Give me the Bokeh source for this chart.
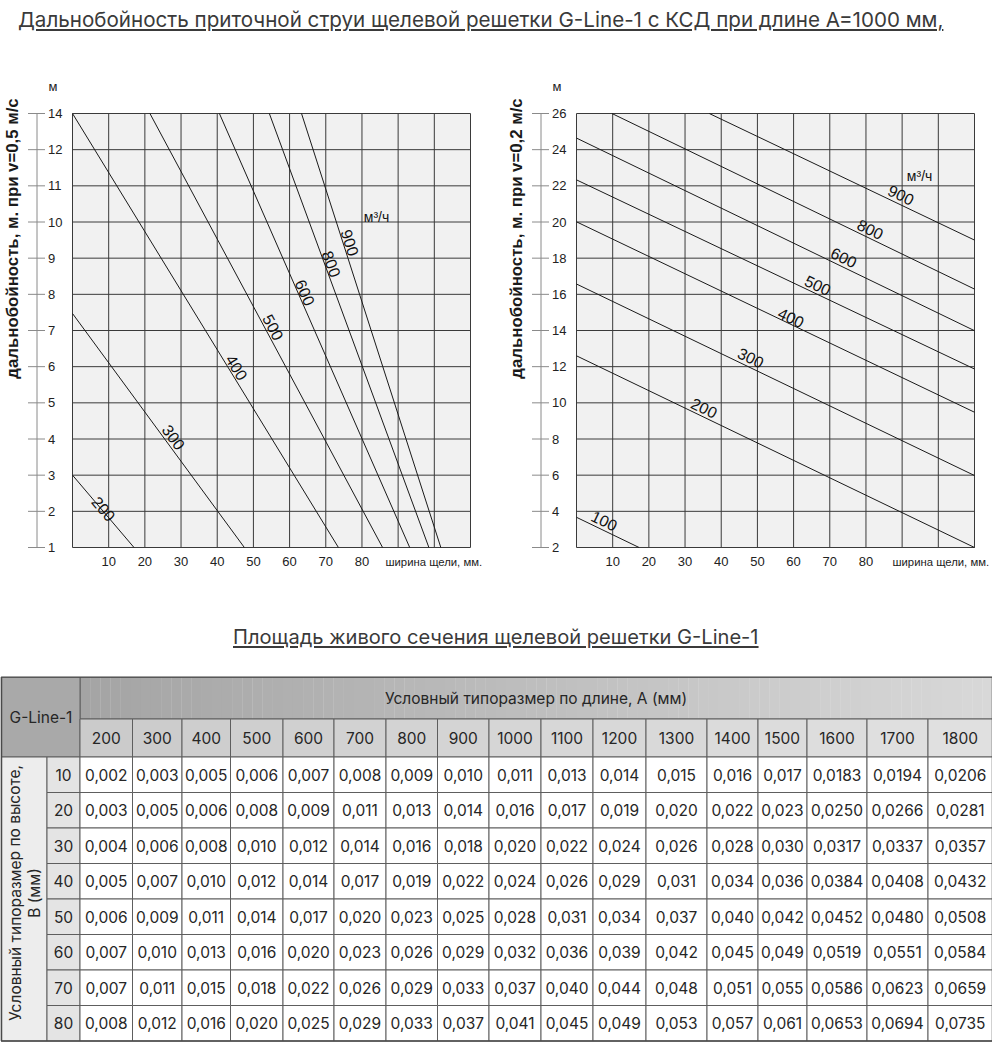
import math
from bokeh.plotting import figure
from bokeh.models import Div, Range1d
from bokeh.layouts import column, row
from bokeh.embed import file_html
from bokeh.resources import INLINE
from bokeh.core.properties import value

# ---------------- data ----------------
chart_x_ticks = [10, 20, 30, 40, 50, 60, 70, 80]
grid_x = [0, 10, 20, 30, 40, 50, 60, 70, 80, 90, 100, 110]

# left chart: throw at v=0.5 m/s (axis position 13 is labelled "14")
left_flows = [200, 300, 400, 500, 600, 800, 900]
left_x_start = [0.0, 0.0, 0.0, 21.4, 40.6, 54.4, 63.3]
left_y_start = [3.0, 7.47, 13.0, 13.0, 13.0, 13.0, 13.0]
left_x_end = [17.0, 47.5, 73.5, 85.7, 93.2, 98.5, 101.8]
left_y_end = [1.0, 1.0, 1.0, 1.0, 1.0, 1.0, 1.0]
left_label_x = [8.6, 28.0, 45.4, 55.5, 64.3, 71.6, 76.7]
left_label_y = [2.07, 4.05, 5.98, 7.09, 8.05, 8.84, 9.43]
left_y_ticks = [1, 2, 3, 4, 5, 6, 7, 8, 9, 10, 11, 12, 13]
left_y_tick_labels = ["1", "2", "3", "4", "5", "6", "7", "8", "9", "10", "11", "12", "14"]

# right chart: throw at v=0.2 m/s
right_flows = [100, 200, 300, 400, 500, 600, 800, 900]
right_x_start = [0.0, 0.0, 0.0, 0.0, 0.0, 0.0, 9.8, 36.7]
right_y_start = [3.67, 12.6, 16.57, 20.01, 22.33, 24.64, 26.0, 26.0]
right_x_end = [17.3, 110.0, 110.0, 110.0, 110.0, 110.0, 110.0, 110.0]
right_y_end = [2.0, 2.0, 5.98, 9.48, 11.87, 13.99, 16.29, 19.0]
right_label_x = [7.7, 35.3, 48.2, 59.3, 66.7, 73.9, 81.2, 89.7]
right_label_y = [3.49, 9.72, 12.5, 14.72, 16.5, 18.04, 19.6, 21.5]
right_y_ticks = [2, 4, 6, 8, 10, 12, 14, 16, 18, 20, 22, 24, 26]
right_y_tick_labels = ["2", "4", "6", "8", "10", "12", "14", "16", "18", "20", "22", "24", "26"]

# table: free area of G-Line-1
table_lengths = [200, 300, 400, 500, 600, 700, 800, 900, 1000, 1100, 1200, 1300, 1400, 1500, 1600, 1700, 1800]
table_heights = [10, 20, 30, 40, 50, 60, 70, 80]
area_10 = [0.002, 0.003, 0.005, 0.006, 0.007, 0.008, 0.009, 0.010, 0.011, 0.013, 0.014, 0.015, 0.016, 0.017, 0.0183, 0.0194, 0.0206]
area_20 = [0.003, 0.005, 0.006, 0.008, 0.009, 0.011, 0.013, 0.014, 0.016, 0.017, 0.019, 0.020, 0.022, 0.023, 0.0250, 0.0266, 0.0281]
area_30 = [0.004, 0.006, 0.008, 0.010, 0.012, 0.014, 0.016, 0.018, 0.020, 0.022, 0.024, 0.026, 0.028, 0.030, 0.0317, 0.0337, 0.0357]
area_40 = [0.005, 0.007, 0.010, 0.012, 0.014, 0.017, 0.019, 0.022, 0.024, 0.026, 0.029, 0.031, 0.034, 0.036, 0.0384, 0.0408, 0.0432]
area_50 = [0.006, 0.009, 0.011, 0.014, 0.017, 0.020, 0.023, 0.025, 0.028, 0.031, 0.034, 0.037, 0.040, 0.042, 0.0452, 0.0480, 0.0508]
area_60 = [0.007, 0.010, 0.013, 0.016, 0.020, 0.023, 0.026, 0.029, 0.032, 0.036, 0.039, 0.042, 0.045, 0.049, 0.0519, 0.0551, 0.0584]
area_70 = [0.007, 0.011, 0.015, 0.018, 0.022, 0.026, 0.029, 0.033, 0.037, 0.040, 0.044, 0.048, 0.051, 0.055, 0.0586, 0.0623, 0.0659]
area_80 = [0.008, 0.012, 0.016, 0.020, 0.025, 0.029, 0.033, 0.037, 0.041, 0.045, 0.049, 0.053, 0.057, 0.061, 0.0653, 0.0694, 0.0735]
table_values = [area_10, area_20, area_30, area_40, area_50, area_60, area_70, area_80]

# ---------------- styling / layout ----------------
FONT = "Liberation Sans"
TFONT = "Inter"
GRID = "#3a3a3a"
AXIS = "#8a8a8a"
FW, FH = 398, 434
TOP, BOT = 55, 43


def make_chart(xs0, ys0, xs1, ys1, flows, lx, ly, y_lo, y_hi, yticks, ylabels,
               ytitle, unit_x, unit_y, ml, mr, xlab_dx):
    sx = FW / 110.0
    sy = FH / float(y_hi - y_lo)
    p = figure(width=ml + FW + mr, height=TOP + FH + BOT,
               x_range=Range1d(-ml / sx, 110 + mr / sx),
               y_range=Range1d(y_lo - BOT / sy, y_hi + TOP / sy),
               output_backend="svg", toolbar_location=None,
               x_axis_location=None, y_axis_location=None, min_border=0)
    p.xgrid.visible = False
    p.ygrid.visible = False
    p.outline_line_color = None
    p.background_fill_color = "white"
    p.border_fill_color = "white"

    # plotting field with its grid
    p.quad(left=[0], right=[110], bottom=[y_lo], top=[y_hi], fill_color="#f1f1f1", line_color=None)
    p.segment(x0=grid_x, x1=grid_x, y0=y_lo, y1=y_hi, line_color=GRID, line_width=1)
    p.segment(x0=0, x1=110, y0=yticks, y1=yticks, line_color=GRID, line_width=1)

    # vertical axis: line left of the field, crossing ticks, labels to the right of it
    ax = -35.5 / sx
    p.segment(x0=[ax], x1=[ax], y0=[y_lo], y1=[y_hi], line_color=AXIS, line_width=1)
    p.segment(x0=ax - 9 / sx, x1=ax + 8 / sx, y0=yticks, y1=yticks, line_color=AXIS, line_width=1)
    p.text(x=ax + 11 / sx, y=yticks, text=ylabels, text_align="left", text_baseline="middle",
           text_font=value(FONT), text_font_size="13px", text_color="#222222")
    p.text(x=[-19.5 / sx], y=[y_hi + 27 / sy], text=["м"], text_align="center",
           text_baseline="middle", text_font=value(FONT), text_font_size="13px",
           text_color="#222222")
    p.text(x=[-60.0 / sx], y=[y_hi - 125 / sy], text=[ytitle], angle=[math.pi / 2],
           text_align="center", text_baseline="middle", text_font=value(FONT),
           text_font_size="16.8px", text_font_style="bold", text_color="#1a1a1a")

    # horizontal axis labels
    p.text(x=chart_x_ticks, y=y_lo - 14 / sy, text=[str(t) for t in chart_x_ticks],
           text_align="center", text_baseline="middle", text_font=value(FONT),
           text_font_size="13px", text_color="#222222")
    p.text(x=[xlab_dx / sx], y=[y_lo - 14 / sy], text=["ширина щели, мм."],
           text_align="left", text_baseline="middle", text_font=value(FONT),
           text_font_size="11.3px", text_color="#222222")

    # flow lines and their labels
    p.segment(x0=xs0, y0=ys0, x1=xs1, y1=ys1, line_color="#1a1a1a", line_width=1)
    angles = [math.atan(((b1 - b0) / (a1 - a0)) * sy / sx)
              for a0, b0, a1, b1 in zip(xs0, ys0, xs1, ys1)]
    p.text(x=lx, y=ly, text=[str(f) for f in flows], angle=angles,
           text_align="center", text_baseline="middle",
           text_font=value(FONT), text_font_size="16px", text_color="#111111")
    p.text(x=[unit_x], y=[unit_y], text=["м³/ч"], text_align="left", text_baseline="middle",
           text_font=value(FONT), text_font_size="14px", text_color="#111111")
    return p


p_left = make_chart(left_x_start, left_y_start, left_x_end, left_y_end, left_flows,
                    left_label_x, left_label_y, 1, 13, left_y_ticks, left_y_tick_labels,
                    "дальнобойность, м. при v=0,5 м/с", 80.5, 10.15, 72, 26, 313.0)
p_right = make_chart(right_x_start, right_y_start, right_x_end, right_y_end, right_flows,
                     right_label_x, right_label_y, 2, 26, right_y_ticks, right_y_tick_labels,
                     "дальнобойность, м. при v=0,2 м/с", 91.3, 22.55, 80, 18, 316.0)

title_style = ("font-family:Inter, sans-serif;color:#3a3a3a;"
               "line-height:24px;white-space:nowrap;margin:0;")
title1 = Div(text='<div style="%sfont-size:20.6px;padding-top:8px;padding-left:18px;"><u>Дальнобойность '
                  'приточной струи щелевой решетки G-Line-1 с КСД при длине А=1000 мм,</u></div>'
                  % title_style,
             width=992, height=58, margin=0)
title2 = Div(text='<div style="%sfont-size:20.1px;padding-top:35px;padding-left:233px;"><u>Площадь '
                  'живого сечения щелевой решетки G-Line-1</u></div>' % title_style,
             width=992, height=86, margin=0)

# ---------------- table ----------------
BORDER = "#5e5e5e"
val_edges = [79, 131.5, 181, 229.5, 282, 333, 385, 436.5, 488, 540, 592, 645, 706, 757, 806, 866, 927, 991.5]
Y_H1, Y_H2, Y_D = 676, 718, 756
ROW_H = 35.5


def mix(c1, c2, t):
    a = [int(c1[i:i + 2], 16) for i in (1, 3, 5)]
    b = [int(c2[i:i + 2], 16) for i in (1, 3, 5)]
    return "#%02x%02x%02x" % tuple(int(round(a[k] + (b[k] - a[k]) * t)) for k in range(3))


pt = figure(width=992, height=366, x_range=Range1d(-0.5, 991.5), y_range=Range1d(1041.5, 675.5),
            output_backend="svg", toolbar_location=None, min_border=0,
            x_axis_location=None, y_axis_location=None)
pt.xgrid.visible = False
pt.ygrid.visible = False
pt.outline_line_color = None
pt.background_fill_color = "white"

n_strips = 90
sw = (val_edges[-1] - 79) / n_strips
pt.quad(left=[79 + i * sw for i in range(n_strips)], right=[79 + (i + 1) * sw + 0.3 for i in range(n_strips)],
        top=Y_H1, bottom=Y_H2,
        fill_color=[mix("#a4a4a4", "#d8d8d8", i / (n_strips - 1)) for i in range(n_strips)],
        line_color=None)
pt.quad(left=[79], right=[val_edges[-1]], top=[Y_H1], bottom=[Y_H2], fill_color=None, line_color=BORDER)
pt.quad(left=[0], right=[79], top=[Y_H1], bottom=[Y_D], fill_color="#a9a9a9", line_color=BORDER)
nL = len(table_lengths)
pt.quad(left=val_edges[:-1], right=val_edges[1:], top=Y_H2, bottom=Y_D,
        fill_color=[mix("#cbcbcb", "#e0e0e0", i / (nL - 1)) for i in range(nL)], line_color=BORDER)

row_tops = [Y_D + i * ROW_H for i in range(len(table_heights))]
row_bots = [t + ROW_H for t in row_tops]
pt.quad(left=[0], right=[46], top=[Y_D], bottom=[row_bots[-1]], fill_color="#ededed", line_color=BORDER)
pt.quad(left=46, right=79, top=row_tops, bottom=row_bots, fill_color="#e4e4e4", line_color=BORDER)

cl, cr, ctop, cbot, cx, cy, ctext = [], [], [], [], [], [], []
for r, vals in enumerate(table_values):
    for c, v in enumerate(vals):
        cl.append(val_edges[c]); cr.append(val_edges[c + 1])
        ctop.append(row_tops[r]); cbot.append(row_bots[r])
        cx.append((val_edges[c] + val_edges[c + 1]) / 2)
        cy.append(row_tops[r] + ROW_H / 2)
        dec = 4 if table_lengths[c] >= 1600 else 3
        ctext.append(("%.*f" % (dec, v)).replace(".", ","))
pt.quad(left=cl, right=cr, top=ctop, bottom=cbot, fill_color="white", line_color=BORDER)
pt.quad(left=[0.5], right=[val_edges[-1]], top=[Y_H1], bottom=[row_bots[-1]], fill_color=None,
        line_color="#4a4a4a", line_width=1.5)

tkw = dict(text_font=value(TFONT), text_color="#262626", text_align="center", text_baseline="middle")
pt.text(x=cx, y=cy, text=ctext, text_font_size="15.5px", **tkw)
pt.text(x=[(val_edges[i] + val_edges[i + 1]) / 2 for i in range(nL)], y=[(Y_H2 + Y_D) / 2] * nL,
        text=[str(v) for v in table_lengths], text_font_size="15.5px", **tkw)
pt.text(x=[62.5] * len(table_heights), y=[t + ROW_H / 2 for t in row_tops],
        text=[str(h) for h in table_heights], text_font_size="15.5px", **tkw)
pt.text(x=[40], y=[(Y_H1 + Y_D) / 2], text=["G-Line-1"], text_font_size="15.5px", **tkw)
pt.text(x=[535], y=[(Y_H1 + Y_H2) / 2], text=["Условный типоразмер по длине, А (мм)"],
        text_font_size="15.5px", **tkw)
pt.text(x=[14, 33], y=[892, 892], text=["Условный типоразмер по высоте,", "В (мм)"],
        angle=[math.pi / 2, math.pi / 2], text_font_size="15.5px", **tkw)

layout = column(title1, row(p_left, p_right), title2, pt)
open("out.html", "w").write(file_html(layout, INLINE))
